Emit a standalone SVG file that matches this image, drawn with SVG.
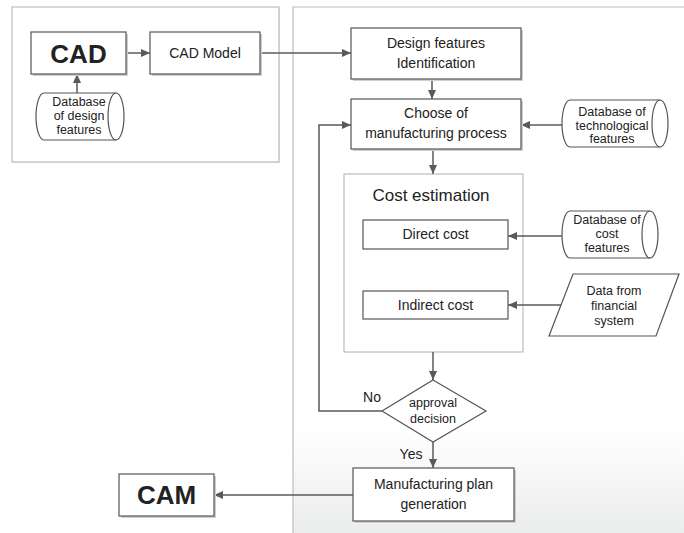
<svg xmlns="http://www.w3.org/2000/svg" width="684" height="533" viewBox="0 0 684 533">
<style>
.panel{fill:none;stroke:#bdbdbd;stroke-width:1.2}
.box{fill:#fff;stroke:#555;stroke-width:1.2}
.shadow{fill:#cfcfcf}
.group{fill:#fff;stroke:#b0b0b0;stroke-width:1}
.line{fill:none;stroke:#5a5a5a;stroke-width:1.5}
text{font-family:"Liberation Sans",Arial,sans-serif;fill:#222;text-anchor:middle}
.t14{font-size:14px}
.t13{font-size:12.5px}
.big{font-size:26px;font-weight:bold}
</style>
<defs>
<marker id="ah" markerWidth="10" markerHeight="10" refX="9" refY="5" orient="auto" markerUnits="userSpaceOnUse">
<path d="M0,1 L9,5 L0,9 Z" fill="#5a5a5a"/>
</marker>
<linearGradient id="bg" x1="0" y1="0" x2="0" y2="1">
<stop offset="0.8" stop-color="#fff"/>
<stop offset="1" stop-color="#ebecec"/>
</linearGradient>
</defs>
<rect x="0" y="0" width="684" height="533" fill="#fff"/>
<rect x="293" y="7" width="391" height="526" fill="url(#bg)"/>
<g id="left-panel">
<rect x="13" y="8" width="267" height="155" fill="#ececec"/>
<rect x="12" y="7" width="267" height="155" fill="#fff" stroke="#bdbdbd" stroke-width="1.2"/>
</g>
<g id="right-panel">
<path class="panel" d="M293,533 L293,7 L684,7"/>
</g>
<g id="cost-estimation">
<rect class="group" x="344" y="174" width="179" height="178"/>
<text x="431" y="201" style="font-size:17px">Cost estimation</text>
</g>
<g id="connectors">
<line class="line" x1="126" y1="53" x2="150" y2="53" marker-end="url(#ah)"/>
<line class="line" x1="77" y1="93" x2="77" y2="74" marker-end="url(#ah)"/>
<line class="line" x1="260" y1="53" x2="351" y2="53" marker-end="url(#ah)"/>
<line class="line" x1="432" y1="79" x2="432" y2="99" marker-end="url(#ah)"/>
<line class="line" x1="562" y1="125" x2="521" y2="125" marker-end="url(#ah)"/>
<line class="line" x1="433" y1="149" x2="433" y2="174" marker-end="url(#ah)"/>
<line class="line" x1="562" y1="236" x2="508" y2="236" marker-end="url(#ah)"/>
<line class="line" x1="565" y1="305" x2="508" y2="305" marker-end="url(#ah)"/>
<line class="line" x1="433" y1="352" x2="433" y2="380" marker-end="url(#ah)"/>
<path class="line" d="M382,411 L319,411 L319,125 L351,125" marker-end="url(#ah)"/>
<line class="line" x1="433" y1="442" x2="433" y2="468" marker-end="url(#ah)"/>
<line class="line" x1="353" y1="495" x2="214" y2="495" marker-end="url(#ah)"/>
<text class="t14" x="372" y="402">No</text>
<text class="t14" x="411" y="459">Yes</text>
</g>
<g id="cad">
<rect class="shadow" x="33" y="34" width="95" height="42"/>
<rect class="box" x="31" y="32" width="95" height="42"/>
<text class="big" x="78.5" y="63">CAD</text>
</g>
<g id="cad-model">
<rect class="shadow" x="152" y="34" width="110" height="42"/>
<rect class="box" x="150" y="32" width="110" height="42"/>
<text class="t14" x="205" y="58">CAD Model</text>
</g>
<g id="db-design">
<path class="box" d="M44,93 L116,93 A8,23.5 0 0 1 116,140 L44,140 A8,23.5 0 0 1 44,93 Z"/>
<path fill="none" stroke="#555" stroke-width="1.2" d="M116,93 A8,23.5 0 0 0 116,140"/>
<text class="t13" x="79" y="105.5">Database</text>
<text class="t13" x="79" y="119.5">of design</text>
<text class="t13" x="79" y="133.5">features</text>
</g>
<g id="design-features">
<rect class="shadow" x="353" y="30" width="170" height="51"/>
<rect class="box" x="351" y="28" width="170" height="51"/>
<text class="t14" x="436" y="48">Design features</text>
<text class="t14" x="436" y="68">Identification</text>
</g>
<g id="choose">
<rect class="shadow" x="353" y="101" width="170" height="50"/>
<rect class="box" x="351" y="99" width="170" height="50"/>
<text class="t14" x="436" y="118">Choose of</text>
<text class="t14" x="436" y="138">manufacturing process</text>
</g>
<g id="db-tech">
<path class="box" d="M570,100 L660,100 A8,23.5 0 0 1 660,147 L570,147 A8,23.5 0 0 1 570,100 Z"/>
<path fill="none" stroke="#555" stroke-width="1.2" d="M660,100 A8,23.5 0 0 0 660,147"/>
<text class="t13" x="612" y="115.5">Database of</text>
<text class="t13" x="612" y="129.5">technological</text>
<text class="t13" x="612" y="143">features</text>
</g>
<g id="direct-cost">
<rect class="box" x="363" y="220" width="145" height="29"/>
<text class="t14" x="435.5" y="239">Direct cost</text>
</g>
<g id="indirect-cost">
<rect class="box" x="363" y="291" width="145" height="28"/>
<text class="t14" x="435.5" y="310">Indirect cost</text>
</g>
<g id="db-cost">
<path class="box" d="M570,211 L650,211 A8,23.5 0 0 1 650,258 L570,258 A8,23.5 0 0 1 570,211 Z"/>
<path fill="none" stroke="#555" stroke-width="1.2" d="M650,211 A8,23.5 0 0 0 650,258"/>
<text class="t13" x="607" y="224">Database of</text>
<text class="t13" x="607" y="238">cost</text>
<text class="t13" x="607" y="252">features</text>
</g>
<g id="financial">
<path class="box" d="M573,274 L679,274 L656,336 L549,336 Z"/>
<text class="t13" x="614" y="295">Data from</text>
<text class="t13" x="614" y="310">financial</text>
<text class="t13" x="614" y="325">system</text>
</g>
<g id="approval">
<path class="box" d="M433,380 L486,411 L433,442 L382,411 Z"/>
<text class="t13" x="433" y="407">approval</text>
<text class="t13" x="433" y="423">decision</text>
</g>
<g id="mfg-plan">
<rect class="shadow" x="355" y="470" width="161" height="53"/>
<rect class="box" x="353" y="468" width="161" height="53"/>
<text class="t14" x="433.5" y="489">Manufacturing plan</text>
<text class="t14" x="433.5" y="509">generation</text>
</g>
<g id="cam">
<rect class="shadow" x="121" y="476" width="95" height="42"/>
<rect class="box" x="119" y="474" width="95" height="42"/>
<text class="big" x="166.5" y="504">CAM</text>
</g>
</svg>
